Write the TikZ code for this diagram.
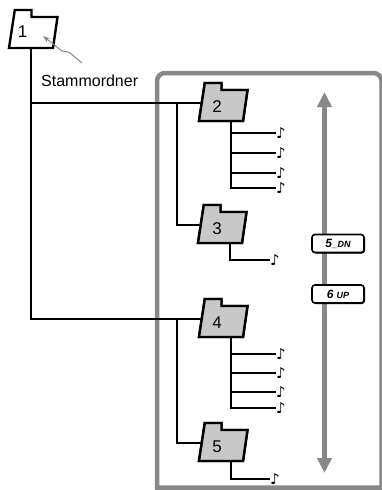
\documentclass[tikz,border=0pt]{standalone}
\usepackage{fontspec}
\setmainfont{Liberation Sans}
\newfontfamily\notefont{DejaVu Sans}
\usetikzlibrary{arrows.meta,calc,shadows}
\definecolor{fgray}{RGB}{200,200,200}
\definecolor{bgray}{RGB}{136,136,136}
\newcommand\myfolder[7]{% name, x, y, fill, label, label x, label y
  \begin{scope}[shift={(#2,#3)}]
    \draw[folderline, fill=#4] (0,0) -- (44,0) -- (48.5,-31) -- (22.5,-31) -- (22.5,-38) -- (5.8,-38) -- cycle;
    \node[flabel] (#1) at (#6,#7) {#5};
    \coordinate (#1-in) at (2.7,-18);
    \coordinate (#1-out) at (32,0);
  \end{scope}}
\begin{document}
\begin{tikzpicture}[x=1pt,y=-1pt,
  trunk/.style={line width=2.5pt},
  twig/.style={line width=1.3pt},
  folderline/.style={line width=2.4pt, line join=miter},
  flabel/.style={font=\fontsize{17}{19}\selectfont, inner sep=0pt},
  note/.style={font=\notefont\itshape\fontsize{15}{16}\selectfont, inner sep=0pt, anchor=west},
  btn/.style={draw, line width=1.6pt, rounded corners=3pt, fill=white,
    minimum width=52pt, minimum height=18pt, inner sep=0pt,
    font=\bfseries\itshape\fontsize{12}{13}\selectfont,
    drop shadow={shadow xshift=1pt, shadow yshift=-1pt, fill=black, opacity=1}},
  boxline/.style={draw=bgray, line width=4.5pt},
  bigarrow/.style={draw=bgray, line width=5pt, {Triangle[width=14pt,length=15pt]}-{Triangle[width=14pt,length=15pt]}},
  pointer/.style={draw=bgray, line width=1pt, -{Stealth[length=7pt,width=5pt]}}
]
\useasboundingbox (0,0) rectangle (381,490);

% grey frame
\draw[boxline] (381.5,487.5) -- (157,487.5) -- (157,120) [rounded corners=8pt] -- (157,73) -- (381.5,73) [sharp corners] -- (381.5,120) -- cycle;

% up/down arrow and buttons
\coordinate (up) at (324.5,92);
\coordinate (dn) at (324.5,473);
\draw[bigarrow] (up) -- (dn);
\node[btn] (b5) at (338,243.5) {5\kern0.5pt{\fontsize{9}{10}\selectfont\_DN}};
\node[btn] (b6) at (338,294) {6\kern3pt{\fontsize{9}{10}\selectfont UP}};

% folders (coordinates first for connectors)
\coordinate (f1o) at (31,48);
\myfolder{f2}{199}{121}{fgray}{2}{18}{-14}
\myfolder{f3}{198}{243}{fgray}{3}{19}{-14}
\myfolder{f4}{199}{337}{fgray}{4}{18}{-14}
\myfolder{f5}{199}{461}{fgray}{5}{18}{-14}

% trunk lines
\coordinate (j2) at ($(f2-in)+(-24.7,0)$);
\coordinate (j4) at ($(f4-in)+(-24.7,0)$);
\draw[trunk] (f1o) |- (f2-in);
\draw[trunk] (f1o) |- (f4-in);
\draw[trunk] (j2) |- (f3-in);
\draw[trunk] (j4) |- (f5-in);

% notes
\node[note] (n2a) at (276,133) {♪};
\node[note] (n2b) at (276,153) {♪};
\node[note] (n2c) at (276,173) {♪};
\node[note] (n2d) at (276,188) {♪};
\node[note] (n3a) at (270,260) {♪};
\node[note] (n4a) at (276,354) {♪};
\node[note] (n4b) at (276,373) {♪};
\node[note] (n4c) at (276,392) {♪};
\node[note] (n4d) at (276,408) {♪};
\node[note] (n5a) at (270,479) {♪};
\foreach \n in {n2a,n2b,n2c,n2d} \draw[twig] (f2-out) |- (\n.west);
\draw[twig] (f3-out) |- (n3a.west);
\foreach \n in {n4a,n4b,n4c,n4d} \draw[twig] (f4-out) |- (\n.west);
\draw[twig] (f5-out) |- (n5a.west);

% redraw folders on top of line ends
\myfolder{f2}{199}{121}{fgray}{2}{18}{-14}
\myfolder{f3}{198}{243}{fgray}{3}{19}{-14}
\myfolder{f4}{199}{337}{fgray}{4}{18}{-14}
\myfolder{f5}{199}{461}{fgray}{5}{18}{-14}
\myfolder{f1}{9}{48}{white}{1}{13.5}{-16.5}

% root label and pointer
\node[font=\fontsize{16}{18}\selectfont, anchor=base west, inner sep=0pt] (st) at (41,86) {Stammordner};
\coordinate (sa) at (82,63);
\coordinate (sb) at (43,36);
\draw[pointer] (sa) -- ($(sa)!0.35!(sb)+(0.85,-1.23)$) -- ($(sa)!0.5!(sb)+(-0.85,1.23)$) -- (sb);
\end{tikzpicture}
\end{document}
